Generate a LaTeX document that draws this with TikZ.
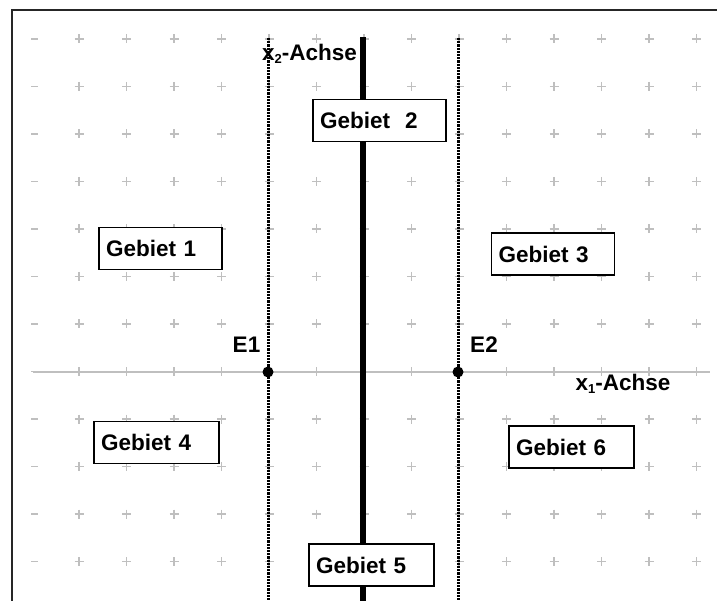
\documentclass[tikz,border=0pt]{standalone}
\usepackage{fontspec}
\setmainfont{Liberation Sans}
\usepackage{tikz}

\begin{document}
\begin{tikzpicture}[
    x=1pt, y=-1pt,
    every node/.style={font=\fontsize{22.5}{26}\selectfont\bfseries, inner sep=0pt},
    gb/.style={draw, fill=white, line width=1.3pt, inner xsep=7pt, inner ysep=0pt,
               minimum height=42pt, align=left},
    cross/.style={draw=black!25, line width=1.4pt},
    axis/.style={draw=black!25, line width=2pt},
    bound/.style={line width=3pt, dash pattern=on 2.2pt off 1pt},
    pt/.style={circle, fill=black, minimum size=11pt, inner sep=0pt},
  ]
  \useasboundingbox (0,0) rectangle (717,601);
  \draw[line width=2pt, black!85] (12,10) rectangle (730,620);
  % grid marks
  \foreach \y in {39,86.5,134,181.5,229,276.5,324,371.5,419,466.5,514,561.5} {
    \draw[cross] (31,\y) -- (38,\y);
    \foreach \x in {79,126.5,174,221.5,269,316.5,364,411.5,459,506.5,554,601.5,649,696.5}
      \draw[cross] (\x-4.5,\y) -- (\x+4.5,\y) (\x,\y-4.5) -- (\x,\y+4.5);
  }
  \coordinate (x1a) at (33,372);
  \coordinate (x1b) at (710,372);
  \coordinate (x2a) at (363,37);
  \coordinate (x2b) at (363,601);
  \coordinate (e1top) at (268,38);
  \coordinate (e1bot) at (268,601);
  \coordinate (e2top) at (458,38);
  \coordinate (e2bot) at (458,601);
  \draw[axis] (x1a) -- (x1b);
  \draw[line width=6pt] (x2a) -- (x2b);
  \draw[bound] (e1top) -- (e1bot);
  \draw[bound] (e2top) -- (e2bot);
  \node[pt] (e1) at (268,372) {};
  \node[pt] (e2) at (458,372) {};
  \node (l1) at (246.5,345) {E1};
  \node (l2) at (484,345) {E2};
  \node[anchor=east] (x2l) at (357,54) {x\raisebox{-3pt}{\fontsize{13}{13}\selectfont 2}-Achse};
  \node (x1l) at (623,384) {x\raisebox{-3pt}{\fontsize{13}{13}\selectfont 1}-Achse};
  \node[gb, text width=109pt] (g1) at (160.5,248.5) {Gebiet 1};
  \node[gb, text width=119pt] (g2) at (379.5,120.5) {Gebiet\ \ 2};
  \node[gb, text width=109pt] (g3) at (553,254) {Gebiet 3};
  \node[gb, text width=111pt] (g4) at (156.5,442.5) {Gebiet 4};
  \node[gb, text width=111pt] (g5) at (371.5,565) {Gebiet 5};
  \node[gb, text width=111pt] (g6) at (571.5,447) {Gebiet 6};
\end{tikzpicture}
\end{document}
